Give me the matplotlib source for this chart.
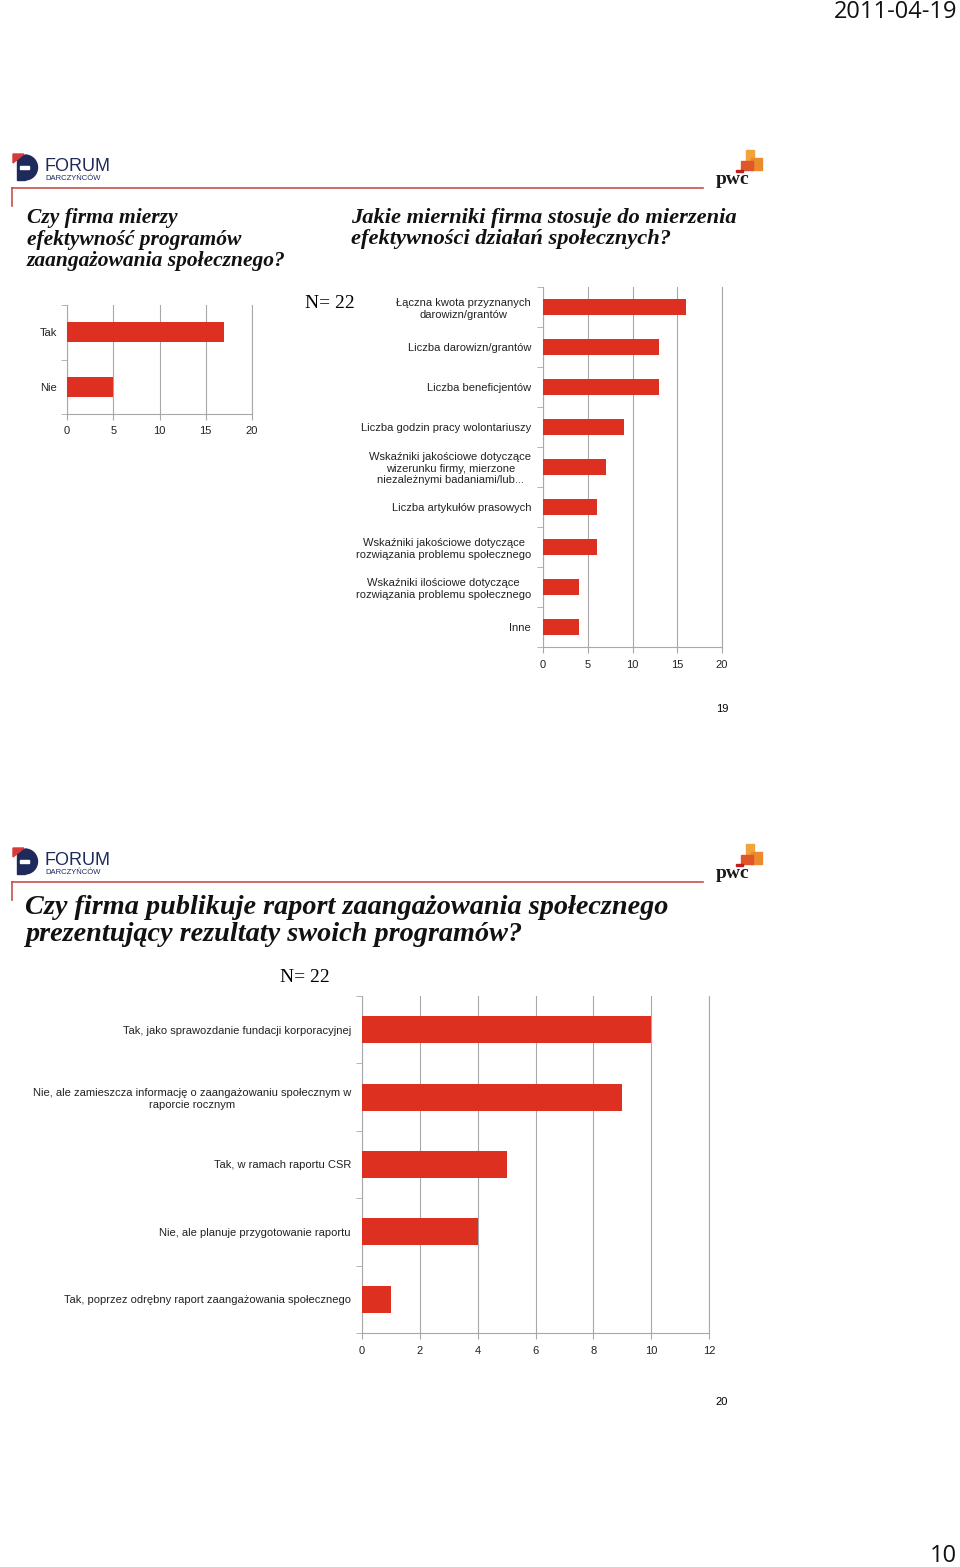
"""
Forum Darczyncow / PwC survey pages 19-20
"""
import matplotlib
matplotlib.use('Agg')
import matplotlib.pyplot as plt
from matplotlib.patches import Rectangle, Wedge, Polygon
from matplotlib.ticker import FixedLocator

W, H = 960, 1567

# data
measure_cats = ['Tak', 'Nie']
measure_vals = [17, 5]

metric_cats = ['Łączna kwota przyznanych\ndarowizn/grantów',
               'Liczba darowizn/grantów',
               'Liczba beneficjentów',
               'Liczba godzin pracy wolontariuszy',
               'Wskaźniki jakościowe dotyczące\nwizerunku firmy, mierzone\nniezależnymi badaniami/lub...',
               'Liczba artykułów prasowych',
               'Wskaźniki jakościowe dotyczące\nrozwiązania problemu społecznego',
               'Wskaźniki ilościowe dotyczące\nrozwiązania problemu społecznego',
               'Inne']
metric_vals = [16, 13, 13, 9, 7, 6, 6, 4, 4]

report_cats = ['Tak, jako sprawozdanie fundacji korporacyjnej',
               'Nie, ale zamieszcza informację o zaangażowaniu społecznym w\nraporcie rocznym',
               'Tak, w ramach raportu CSR',
               'Nie, ale planuje przygotowanie raportu',
               'Tak, poprzez odrębny raport zaangażowania społecznego']
report_vals = [10, 9, 5, 4, 1]

bar_color = '#DD3020'
grid_color = '#A8A8A8'
navy = '#1F2A5C'
line_red = '#C8504A'

plt.rcParams['font.family'] = ['Liberation Sans', 'DejaVu Sans']

fig = plt.figure(figsize=(W / 100, H / 100), dpi=100)

# overlay in pixel coordinates for logos and rules
deco = fig.add_axes([0, 0, 1, 1], zorder=-1)
deco.set_xlim(0, W)
deco.set_ylim(H, 0)
deco.axis('off')


def px_axes(left, top, right, bottom):
    return fig.add_axes([left / W, 1 - bottom / H, (right - left) / W, (bottom - top) / H])


def px_text(x, y, s, **kw):
    return fig.text(x / W, 1 - y / H, s, **kw)


def bar_chart(ax, cats, vals, xmax, step, height, pad):
    n = len(cats)
    pos = list(range(n))
    ax.barh(pos, vals, height=height, color=bar_color, zorder=3)
    ax.set_xlim(0, xmax)
    ax.set_ylim(n - 0.5, -0.5)
    ax.set_xticks(range(0, xmax + 1, step))
    ax.set_yticks(pos)
    ax.set_yticklabels(cats, fontsize=8, color='#222222', ha='right', multialignment='center')
    ax.yaxis.set_minor_locator(FixedLocator([p + 0.5 for p in range(-1, n)]))
    ax.tick_params(axis='y', which='major', length=0, pad=pad)
    ax.tick_params(axis='y', which='minor', length=4, color=grid_color, direction='out')
    ax.tick_params(axis='x', length=4, color=grid_color, labelsize=8, labelcolor='#222222', pad=5)
    ax.grid(axis='x', color=grid_color, lw=0.8, zorder=0)
    for s in ['top', 'right']:
        ax.spines[s].set_visible(False)
    for s in ['left', 'bottom']:
        ax.spines[s].set_color(grid_color)
        ax.spines[s].set_linewidth(0.8)
    ax.axvline(xmax, color=grid_color, lw=0.8, zorder=0, clip_on=False)


def header(y0):
    # Forum Darczyncow logo
    deco.add_patch(Wedge((25, y0 + 15.5), 12.5, -90, 90, color=navy))
    deco.add_patch(Rectangle((17, y0 + 3), 8, 25, color=navy))
    deco.add_patch(Polygon([(13, y0 + 2), (24, y0 + 2), (13, y0 + 11)], closed=True, color='#D83A3A'))
    deco.add_patch(Rectangle((20, y0 + 14), 9, 3, color='white'))
    deco.text(44, y0 + 19, 'FORUM', fontsize=13, color=navy, va='baseline')
    deco.text(45, y0 + 27.5, 'DARCZYŃCÓW', fontsize=5.5, color=navy, va='baseline')
    # pwc logo
    deco.add_patch(Rectangle((746, y0 - 2), 8, 16, color='#F2A33A'))
    deco.add_patch(Rectangle((751, y0 + 6), 11, 12, color='#EC8A2E'))
    deco.add_patch(Rectangle((741, y0 + 9), 12, 9, color='#E0562A'))
    deco.add_patch(Rectangle((736, y0 + 18), 7, 1.8, color='#C02020'))
    deco.text(733, y0 + 32, 'pwc', fontsize=14, fontweight='bold', family='Liberation Serif',
              ha='center', va='baseline', color='#1A1A1A')
    # red rule
    deco.plot([12, 703], [y0 + 36, y0 + 36], color=line_red, lw=1.2)
    deco.plot([12, 12], [y0 + 36, y0 + 54], color=line_red, lw=1.2)


title_kw = dict(family='Liberation Serif', style='italic', fontweight='bold', color='#111111', va='top')

# page 19
header(152)
px_text(27, 208, 'Czy firma mierzy\nefektywność programów\nzaangażowania społecznego?',
        fontsize=15.5, linespacing=1.1, **title_kw)
px_text(351, 208, 'Jakie mierniki firma stosuje do mierzenia\nefektywności działań społecznych?',
        fontsize=16.2, linespacing=1.08, **title_kw)
px_text(330, 303, 'N= 22', fontsize=14, family='Liberation Serif', ha='center', va='center')

ax1 = px_axes(67, 305, 252, 414)
bar_chart(ax1, measure_cats, measure_vals, 20, 5, 0.37, 7)

ax2 = px_axes(543, 287, 722, 647)
bar_chart(ax2, metric_cats, metric_vals, 20, 5, 0.4, 8.5)

px_text(722, 709, '19', fontsize=8, ha='center', va='center')

# page 20
header(846)
px_text(25, 895, 'Czy firma publikuje raport zaangażowania społecznego\nprezentujący rezultaty swoich programów?',
        fontsize=20.3, linespacing=1.08, **title_kw)
px_text(305, 977, 'N= 22', fontsize=14, family='Liberation Serif', ha='center', va='center')

ax3 = px_axes(362, 996, 709, 1333)
bar_chart(ax3, report_cats, report_vals, 12, 2, 0.4, 8)

px_text(722, 1402, '20', fontsize=8, ha='center', va='center')

# slide header / footer
px_text(957, 12, '2011-04-19', fontsize=17, family='Open Sans', ha='right', va='center', color='#111111')
px_text(957, 1556, '10', fontsize=17, family='Open Sans', ha='right', va='center', color='#111111')

fig.savefig('out.png', dpi=100)
